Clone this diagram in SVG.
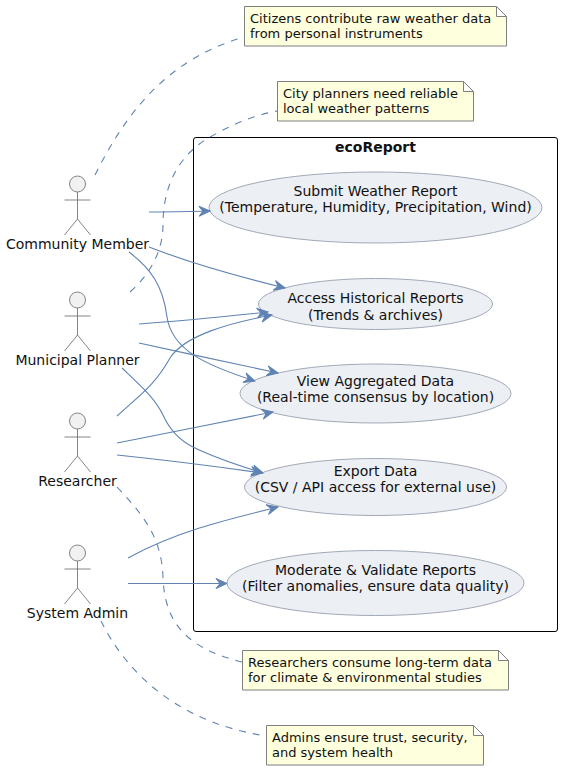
<svg xmlns="http://www.w3.org/2000/svg" width="562" height="771" viewBox="0 0 562 771">
<style>
text{font-family:"DejaVu Sans",sans-serif;fill:#111;text-anchor:middle}
.l{font-size:14px}
.n{font-size:13px;text-anchor:start}
.uc{fill:#ECEFF4;stroke:#8C96A6;stroke-width:.8}
.note{fill:#FEFFDD;stroke:#7F7F7F;stroke-width:1}
.a{fill:#F1F1F1;stroke:#666;stroke-width:.8}
.al{fill:none;stroke:#666;stroke-width:.8}
.c{fill:none;stroke:#5F83B3;stroke-width:1.1}
.arr{marker-end:url(#h)}
.d{stroke-dasharray:7 7}
</style>
<defs>
<marker id="h" markerUnits="userSpaceOnUse" markerWidth="14" markerHeight="12" refX="11" refY="5" orient="auto" overflow="visible"><path d="M11,5 L0,0 L4,5 L0,10 Z" fill="#5F83B3" stroke="#5F83B3" stroke-width="1"/></marker>
<g id="fig"><circle class="a" cx="0" cy="0" r="8"/><path class="al" d="M0,8V35M-13,16H13M0,35L-13,51M0,35L13,51"/></g>
</defs>
<rect id="boundary" x="193.5" y="137.5" width="364" height="494" rx="2.5" fill="#fff" stroke="#000" stroke-width="1"/>
<text x="375.5" y="152" font-size="14" style="font-weight:bold">ecoReport</text>
<g id="submit"><ellipse class="uc" cx="375.5" cy="207.5" rx="166.5" ry="35.5"/><text class="l" x="375.5" y="196">Submit Weather Report</text><text class="l" x="375.5" y="212">(Temperature, Humidity, Precipitation, Wind)</text></g>
<g id="access"><ellipse class="uc" cx="375.5" cy="304" rx="117" ry="25.5"/><text class="l" x="375.5" y="303">Access Historical Reports</text><text class="l" x="375.5" y="320">(Trends &amp; archives)</text></g>
<g id="view"><ellipse class="uc" cx="375.5" cy="393.5" rx="135.5" ry="29.5"/><text class="l" x="375.5" y="386">View Aggregated Data</text><text class="l" x="375.5" y="402">(Real-time consensus by location)</text></g>
<g id="export"><ellipse class="uc" cx="375.5" cy="487" rx="131" ry="28.5"/><text class="l" x="375.5" y="476">Export Data</text><text class="l" x="375.5" y="492">(CSV / API access for external use)</text></g>
<g id="moderate"><ellipse class="uc" cx="375.5" cy="583" rx="148.5" ry="32.5"/><text class="l" x="375.5" y="575">Moderate &amp; Validate Reports</text><text class="l" x="375.5" y="591">(Filter anomalies, ensure data quality)</text></g>
<g id="connectors">
<path class="c arr" d="M149,212C165,212 190,211.5 210,211"/>
<path class="c arr" d="M149,247C190,263 240,277 285,288"/>
<path class="c arr" d="M129,252C150,268 163,285 167,317C172,350 205,365 255,381"/>
<path class="c arr" d="M139,324C180,321 230,316 268,312"/>
<path class="c arr" d="M139,343C185,353 235,364 278,373"/>
<path class="c arr" d="M122,368C140,385 155,398 163,415C172,435 185,443 193,447C215,458 240,466 263,473"/>
<path class="c arr" d="M117,416C140,395 155,385 170,358C185,335 230,323 272,315"/>
<path class="c arr" d="M117,443C165,433 225,422 273,412"/>
<path class="c arr" d="M117,455C165,460 220,467 262,473"/>
<path class="c arr" d="M128,558C175,532 225,520 278,507"/>
<path class="c arr" d="M128,583.5H227"/>
<path class="c d" d="M95,175C125,115 165,60 244,37"/>
<path class="c d" d="M130,292C155,270 163,245 163,225C163,190 175,160 205,140C225,128 250,116 277,111"/>
<path class="c d" d="M117,487C140,512 162,535 163,578C165,630 195,650 242,662"/>
<path class="c d" d="M101,621C125,670 175,722 266,736"/>
</g>
<g id="n1"><path class="note" d="M244.5,6.5H496.5L506.5,16.5V46H244.5ZM496.5,6.5V16.5H506.5"/><text class="n" x="250" y="23">Citizens contribute raw weather data</text><text class="n" x="250" y="38">from personal instruments</text></g>
<g id="n2"><path class="note" d="M277.5,81.5H463.5L473.5,91.5V121H277.5ZM463.5,81.5V91.5H473.5"/><text class="n" x="283" y="98">City planners need reliable</text><text class="n" x="283" y="113">local weather patterns</text></g>
<g id="n3"><path class="note" d="M242.5,650.5H498.5L508.5,660.5V690H242.5ZM498.5,650.5V660.5H508.5"/><text class="n" x="248" y="667">Researchers consume long-term data</text><text class="n" x="248" y="682">for climate &amp; environmental studies</text></g>
<g id="n4"><path class="note" d="M266.5,725.5H473.5L483.5,735.5V765H266.5ZM473.5,725.5V735.5H483.5"/><text class="n" x="272" y="742">Admins ensure trust, security,</text><text class="n" x="272" y="757">and system health</text></g>
<g id="community"><use href="#fig" x="77.5" y="184"/><text class="l" x="77.5" y="249">Community Member</text></g>
<g id="planner"><use href="#fig" x="77.5" y="300"/><text class="l" x="77.5" y="365">Municipal Planner</text></g>
<g id="researcher"><use href="#fig" x="77.5" y="421"/><text class="l" x="77.5" y="486">Researcher</text></g>
<g id="admin"><use href="#fig" x="77.5" y="553"/><text class="l" x="77.5" y="618">System Admin</text></g>
</svg>
